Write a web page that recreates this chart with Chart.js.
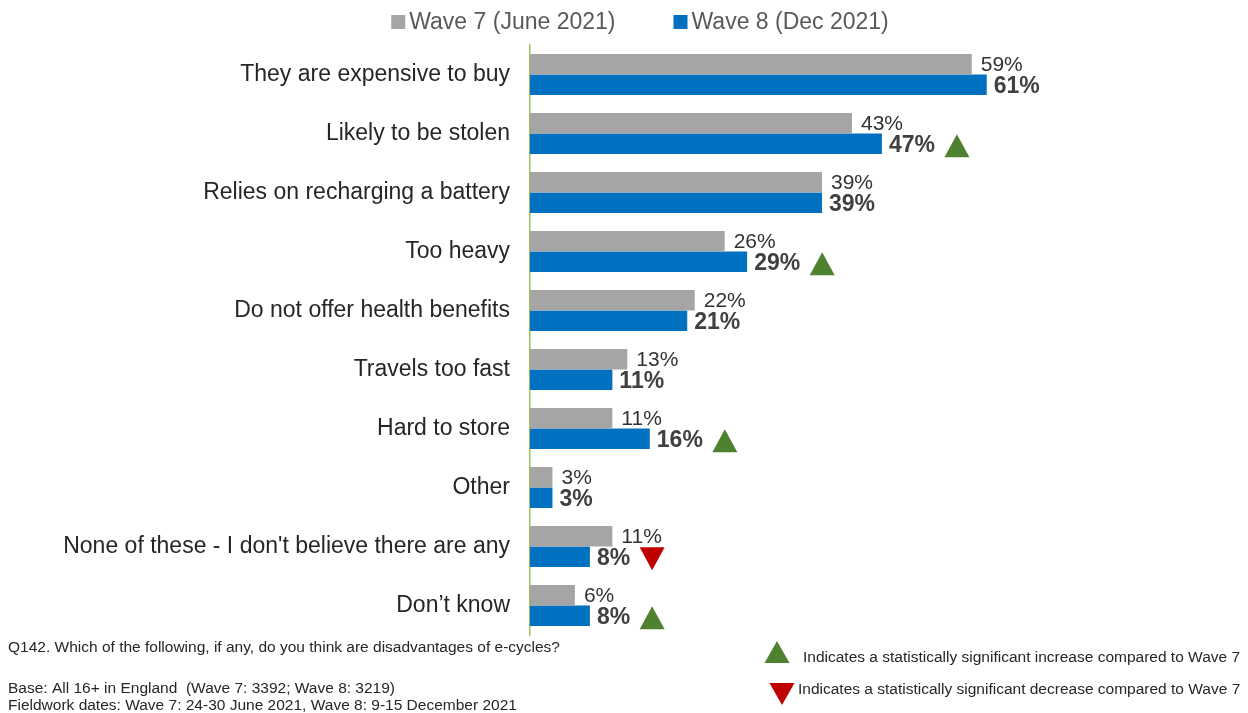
<!DOCTYPE html>
<html>
<head>
<meta charset="utf-8">
<script src="https://cdn.jsdelivr.net/npm/chart.js@4.4.1/dist/chart.umd.min.js"></script>
<style>
  html, body { margin: 0; padding: 0; background: #ffffff; }
  #wrap { position: relative; width: 1248px; height: 713px; }
</style>
</head>
<body>
<div id="wrap"><canvas id="chart"></canvas></div>
<script>
// Survey answers, top to bottom
const categories = [
  "They are expensive to buy",
  "Likely to be stolen",
  "Relies on recharging a battery",
  "Too heavy",
  "Do not offer health benefits",
  "Travels too fast",
  "Hard to store",
  "Other",
  "None of these - I don't believe there are any",
  "Don\u2019t know"
];
const seriesNames = ["Wave 7 (June 2021)", "Wave 8 (Dec 2021)"];
const wave7 = [59, 43, 39, 26, 22, 13, 11, 3, 11, 6];
const wave8 = [61, 47, 39, 29, 21, 11, 16, 3, 8, 8];
// 1 = significant increase vs Wave 7, -1 = significant decrease, 0 = no change
const significance = [0, 1, 0, 1, 0, 0, 1, 0, -1, 1];

const footnotes = [
  "Q142. Which of the following, if any, do you think are disadvantages of e-cycles?",
  "",
  "Base: All 16+ in England  (Wave 7: 3392; Wave 8: 3219)",
  "Fieldwork dates: Wave 7: 24-30 June 2021, Wave 8: 9-15 December 2021"
];
const keyTexts = [
  "Indicates a statistically significant increase compared to Wave 7",
  "Indicates a statistically significant decrease compared to Wave 7"
];

const GREY = "#A5A5A5";
const BLUE = "#0070C0";
const UP = "#4E8231";
const DOWN = "#C00000";
const FONT = "'Liberation Sans', Arial, sans-serif";

function triangle(ctx, cx, cy, w, h, up, color) {
  ctx.beginPath();
  if (up) {
    ctx.moveTo(cx, cy - h / 2);
    ctx.lineTo(cx + w / 2, cy + h / 2);
    ctx.lineTo(cx - w / 2, cy + h / 2);
  } else {
    ctx.moveTo(cx - w / 2, cy - h / 2);
    ctx.lineTo(cx + w / 2, cy - h / 2);
    ctx.lineTo(cx, cy + h / 2);
  }
  ctx.closePath();
  ctx.fillStyle = color;
  ctx.fill();
}

// Percent labels after each bar, plus the significance arrows on Wave 8
const valueLabels = {
  id: "valueLabels",
  afterDatasetsDraw(chart) {
    const ctx = chart.ctx;
    ctx.save();
    ctx.textBaseline = "middle";
    ctx.textAlign = "left";
    chart.data.datasets.forEach((ds, di) => {
      const meta = chart.getDatasetMeta(di);
      meta.data.forEach((bar, i) => {
        const txt = ds.data[i] + "%";
        if (di === 0) {
          ctx.font = "21px " + FONT;
          ctx.fillStyle = "#333333";
          ctx.fillText(txt, bar.x + 9, bar.y + 1);
        } else {
          ctx.font = "bold 23px " + FONT;
          ctx.fillStyle = "#404040";
          ctx.fillText(txt, bar.x + 7, bar.y + 2);
          const s = significance[i];
          if (s !== 0) {
            const w = ctx.measureText(txt).width;
            const cx = bar.x + 7 + w + 10 + 12;
            triangle(ctx, cx, bar.y + 2, 25, 23, s > 0, s > 0 ? UP : DOWN);
          }
        }
      });
    });
    ctx.restore();
  }
};

// Series key at the top
const topKey = {
  id: "topKey",
  afterDraw(chart) {
    const ctx = chart.ctx;
    ctx.save();
    ctx.font = "23px " + FONT;
    ctx.textBaseline = "middle";
    ctx.textAlign = "left";
    const box = 14, gapBoxText = 4, gapItems = 58;
    const items = chart.data.datasets.map(d => ({
      label: d.label, color: d.backgroundColor, w: ctx.measureText(d.label).width
    }));
    const total = items.reduce((a, it) => a + box + gapBoxText + it.w, 0) + gapItems * (items.length - 1);
    let x = 640 - total / 2;
    const y = 22;
    items.forEach(it => {
      ctx.fillStyle = it.color;
      ctx.fillRect(x, y - box / 2, box, box);
      x += box + gapBoxText;
      ctx.fillStyle = "#595959";
      ctx.fillText(it.label, x, y + 1);
      x += it.w + gapItems;
    });
    ctx.restore();
  }
};

// Notes under the plot and the arrow key
const notes = {
  id: "notes",
  afterDraw(chart) {
    const ctx = chart.ctx;
    ctx.save();
    ctx.textBaseline = "middle";
    ctx.textAlign = "left";
    ctx.fillStyle = "#262626";
    ctx.font = "15.5px " + FONT;
    const ys = [648, 668, 689, 706];
    footnotes.forEach((t, i) => { if (t) ctx.fillText(t, 8, ys[i]); });
    triangle(ctx, 777, 652, 25, 22, true, UP);
    ctx.fillStyle = "#262626";
    ctx.fillText(keyTexts[0], 803, 658);
    triangle(ctx, 782, 694, 25, 22, false, DOWN);
    ctx.fillStyle = "#262626";
    ctx.fillText(keyTexts[1], 798, 690);
    ctx.restore();
  }
};

new Chart(document.getElementById("chart"), {
  type: "bar",
  data: {
    labels: categories,
    datasets: [
      { label: seriesNames[0], data: wave7, backgroundColor: GREY },
      { label: seriesNames[1], data: wave8, backgroundColor: BLUE }
    ]
  },
  options: {
    indexAxis: "y",
    responsive: true,
    maintainAspectRatio: false,
    animation: false,
    layout: { padding: { top: 45, bottom: 78, left: 0, right: 119 } },
    datasets: { bar: { categoryPercentage: 0.695, barPercentage: 1.0 } },
    scales: {
      x: { display: false, min: 0, max: 80 },
      y: {
        afterFit(scale) { scale.width = 530; },
        grid: { display: false },
        border: { display: true, color: "#9BC35A", width: 1.5 },
        ticks: {
          padding: 12,
          color: "#262626",
          font: { family: FONT, size: 23 }
        }
      }
    },
    plugins: {
      legend: { display: false },
      tooltip: { enabled: false }
    }
  },
  plugins: [valueLabels, topKey, notes]
});
</script>
</body>
</html>
